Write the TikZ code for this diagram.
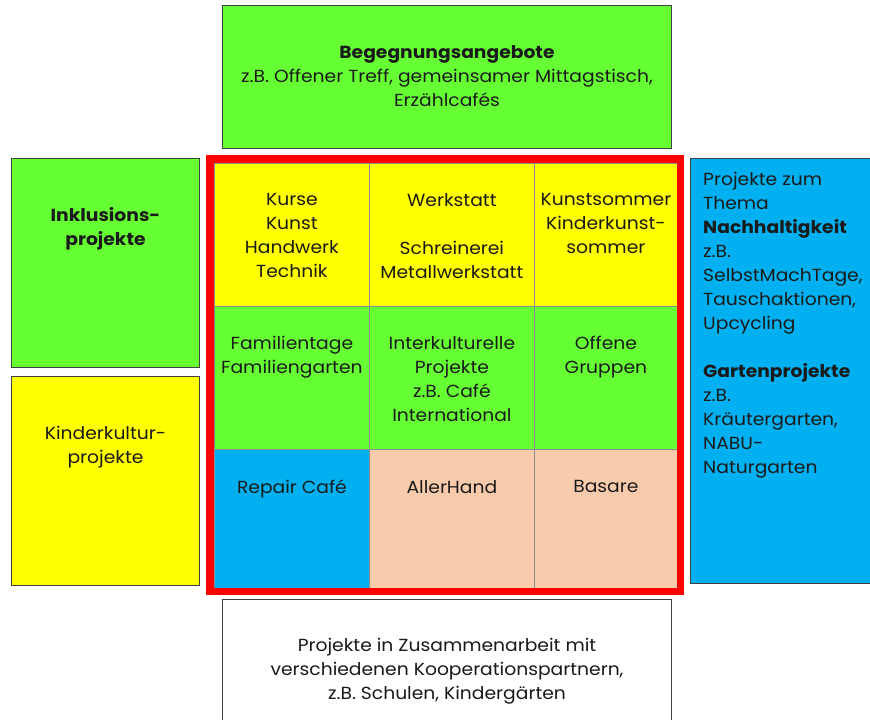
\documentclass[tikz,border=0pt]{standalone}
\usepackage{fontspec}
\setmainfont{Poppins}[FakeStretch=1.07]
\definecolor{cgreen}{HTML}{66FF33}
\definecolor{cyellow}{HTML}{FFFF00}
\definecolor{cblue}{HTML}{00B0F0}
\definecolor{cpeach}{HTML}{F8CBAD}
\definecolor{cred}{HTML}{FF0000}
\definecolor{cedge}{HTML}{404040}
\definecolor{cgrid}{HTML}{8C8C8C}
\definecolor{ctext}{HTML}{1A1A1A}
\tikzset{
  outerbox/.style={draw=cedge, line width=1pt, anchor=north west, inner sep=0pt},
  cellbox/.style={draw=cgrid, line width=0.8pt, anchor=north west, inner sep=0pt},
  txt/.style={anchor=north, inner sep=0pt, align=center, text=ctext, font=\fontsize{17.5}{24}\selectfont},
  ltxt/.style={anchor=north west, inner sep=0pt, align=left, text=ctext, font=\fontsize{17.5}{24}\selectfont},
}
\begin{document}
\begin{tikzpicture}[x=1pt,y=-1pt]
\useasboundingbox (0,0) rectangle (870,720);
\fill[white] (0,0) rectangle (870,720);
% outer boxes
\node[outerbox, fill=cgreen, minimum width=449pt, minimum height=143pt] (top) at (222,5) {};
\node[outerbox, fill=white, minimum width=449pt, minimum height=140pt] (bot) at (222,599) {};
\node[outerbox, fill=cgreen, minimum width=188pt, minimum height=209pt] (incl) at (11,158) {};
\node[outerbox, fill=cyellow, minimum width=188pt, minimum height=209pt] (kind) at (11,376) {};
\node[outerbox, fill=cblue, minimum width=190pt, minimum height=425pt] (nach) at (690,158) {};
% grid cells
\node[cellbox, fill=cyellow, minimum width=155pt, minimum height=143pt] (c11) at (214,163) {};
\node[cellbox, fill=cyellow, minimum width=165pt, minimum height=143pt] (c12) at (369,163) {};
\node[cellbox, fill=cyellow, minimum width=143pt, minimum height=143pt] (c13) at (534,163) {};
\node[cellbox, fill=cgreen, minimum width=155pt, minimum height=143pt] (c21) at (214,306) {};
\node[cellbox, fill=cgreen, minimum width=165pt, minimum height=143pt] (c22) at (369,306) {};
\node[cellbox, fill=cgreen, minimum width=143pt, minimum height=143pt] (c23) at (534,306) {};
\node[cellbox, fill=cblue, minimum width=155pt, minimum height=139pt] (c31) at (214,449) {};
\node[cellbox, fill=cpeach, minimum width=165pt, minimum height=139pt] (c32) at (369,449) {};
\node[cellbox, fill=cpeach, minimum width=143pt, minimum height=139pt] (c33) at (534,449) {};
% red frame
\draw[cred, line width=7.5pt] (210,159) rectangle (680.5,591.5);
% texts
\node[txt] (ttop) at ([yshift=-40pt]top.north) {\textbf{Begegnungsangebote}\\z.B. Offener Treff, gemeinsamer Mittagstisch,\\Erzählcafés};
\node[txt] (tbot) at ([yshift=-39pt]bot.north) {Projekte in Zusammenarbeit mit\\verschiedenen Kooperationspartnern,\\z.B. Schulen, Kindergärten};
\node[txt] (tincl) at ([yshift=-49pt]incl.north) {\textbf{Inklusions-}\\\textbf{projekte}};
\node[txt] (tkind) at ([yshift=-50pt]kind.north) {Kinderkultur-\\projekte};
\node[ltxt] (tnach) at (703,172) {Projekte zum\\Thema\\\textbf{Nachhaltigkeit}\\z.B.\\SelbstMachTage,\\Tauschaktionen,\\Upcycling\\[24pt]\textbf{Gartenprojekte}\\z.B.\\Kräutergarten,\\NABU-\\Naturgarten};
\node[txt] (t11) at ([yshift=-30pt]c11.north) {Kurse\\Kunst\\Handwerk\\Technik};
\node[txt] (t12) at ([yshift=-30pt]c12.north) {Werkstatt\\[24pt]Schreinerei\\Metallwerkstatt};
\node[txt] (t13) at ([yshift=-30pt]c13.north) {Kunstsommer\\Kinderkunst-\\sommer};
\node[txt] (t21) at ([yshift=-30pt]c21.north) {Familientage\\Familiengarten};
\node[txt] (t22) at ([yshift=-30pt]c22.north) {Interkulturelle\\Projekte\\z.B. Café\\International};
\node[txt] (t23) at ([yshift=-30pt]c23.north) {Offene\\Gruppen};
\node[txt] (t31) at ([yshift=-31pt]c31.north) {Repair Café};
\node[txt] (t32) at ([yshift=-31pt]c32.north) {AllerHand};
\node[txt] (t33) at ([yshift=-31pt]c33.north) {Basare};
\end{tikzpicture}
\end{document}
